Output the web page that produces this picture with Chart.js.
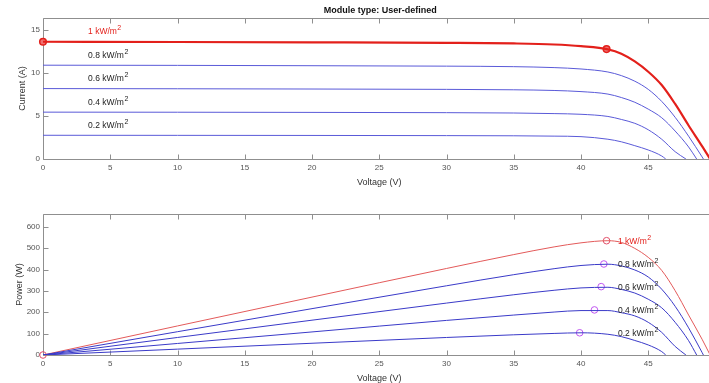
<!DOCTYPE html>
<html>
<head>
<meta charset="utf-8">
<script src="https://cdn.jsdelivr.net/npm/chart.js@4.4.0/dist/chart.umd.min.js"></script>
<style>
  html, body { margin: 0; padding: 0; background: #fff; }
  body { width: 709px; height: 383px; overflow: hidden; position: relative; }
  canvas { position: absolute; left: 0; }
  #ivChart { top: 0; }
  #pvChart { top: 196px; }
</style>
</head>
<body>
<canvas id="ivChart" width="760" height="195"></canvas>
<canvas id="pvChart" width="760" height="195"></canvas>
<script>
// irradiance levels, kW/m2
const irradiance = ['1', '0.8', '0.6', '0.4', '0.2'];

// voltage points (V) along each curve
const volt10 = [0, 10, 20, 30, 35, 38, 40, 42, 43, 44, 45, 46, 47, 48, 49, 49.6];
const volt08 = [0, 10, 20, 30, 35, 38, 40, 42, 43, 44, 45, 46, 47, 48, 49, 49.1];
const volt06 = [0, 10, 20, 30, 35, 38, 40, 42, 43, 44, 45, 46, 47, 48, 48.6];
const volt04 = [0, 10, 20, 30, 35, 38, 40, 42, 43, 44, 45, 46, 47, 47.8];
const volt02 = [0, 10, 20, 30, 35, 38, 40, 42, 43, 44, 45, 46, 46.3];

// current (A)
const curr10 = [13.64, 13.61, 13.57, 13.51, 13.44, 13.32, 13.12, 12.75, 12.25, 11.35, 10.15, 8.6, 6.4, 3.9, 1.5, 0];
const curr08 = [10.91, 10.89, 10.85, 10.80, 10.74, 10.63, 10.47, 10.12, 9.7, 9.05, 8.1, 6.7, 4.85, 2.65, 0.25, 0];
const curr06 = [8.19, 8.17, 8.14, 8.10, 8.05, 7.97, 7.84, 7.55, 7.15, 6.6, 5.8, 4.8, 3.25, 1.4, 0];
const curr04 = [5.45, 5.44, 5.42, 5.39, 5.35, 5.28, 5.2, 4.95, 4.6, 4.15, 3.4, 2.3, 0.85, 0];
const curr02 = [2.76, 2.75, 2.74, 2.72, 2.70, 2.66, 2.60, 2.3, 2.0, 1.55, 1.05, 0.35, 0];

// power (W)
const pow10 = [0, 136, 271, 405, 470, 506, 525, 535, 527, 499, 457, 396, 301, 187, 74, 0];
const pow08 = [0, 109, 217, 324, 376, 404, 419, 425, 417, 398, 365, 308, 228, 127, 12, 0];
const pow06 = [0, 82, 163, 243, 282, 303, 314, 317, 307, 290, 261, 221, 153, 67, 0];
const pow04 = [0, 54, 108, 162, 187, 201, 208, 208, 198, 183, 153, 106, 40, 0];
const pow02 = [0, 27.5, 55, 82, 94.5, 101, 104, 97, 86, 68, 47, 16, 0];

// maximum power points
const mppVolt = [41.9, 41.7, 41.5, 41.0, 39.9];
const mppCurr = [12.78, 10.2, 7.7, 5.15, 2.6];
const mppPow = [535, 426, 320, 211, 104];

// ticks
const voltTicks = [0, 5, 10, 15, 20, 25, 30, 35, 40, 45, 50];
const currTicks = [0, 5, 10, 15];
const powTicks = [0, 100, 200, 300, 400, 500, 600];

const FONT = '"Liberation Sans", Arial, Helvetica, sans-serif';

function pts(xs, ys) {
  return xs.map((x, i) => ({ x: x, y: ys[i] }));
}

function unitLabel(ctx, text, x, y, color) {
  ctx.fillStyle = color;
  ctx.textAlign = 'left';
  ctx.textBaseline = 'middle';
  ctx.font = '8.5px ' + FONT;
  ctx.fillText(text, x, y);
  const w = ctx.measureText(text).width;
  ctx.font = '7px ' + FONT;
  ctx.fillText('2', x + w + 0.5, y - 3.5);
}

// axes box with inward ticks, like matlab
const framePlugin = {
  id: 'frame',
  beforeDatasetsDraw(chart) {
    const { ctx, chartArea: a, scales: { x, y } } = chart;
    ctx.save();
    ctx.strokeStyle = '#8f8f8f';
    ctx.lineWidth = 1;
    const l = Math.round(a.left) + 0.5, r = Math.round(a.right) + 0.5;
    const t = Math.round(a.top) + 0.5, b = Math.round(a.bottom) + 0.5;
    ctx.beginPath();
    ctx.rect(l, t, r - l, b - t);
    x.ticks.forEach(tk => {
      const px = Math.round(x.getPixelForValue(tk.value)) + 0.5;
      ctx.moveTo(px, b); ctx.lineTo(px, b - 5);
      ctx.moveTo(px, t); ctx.lineTo(px, t + 5);
    });
    y.ticks.forEach(tk => {
      const py = Math.round(y.getPixelForValue(tk.value)) + 0.5;
      ctx.moveTo(l, py); ctx.lineTo(l + 5, py);
      ctx.moveTo(r, py); ctx.lineTo(r - 5, py);
    });
    ctx.stroke();
    ctx.restore();
  },
  afterDraw(chart, args, opts) {
    const { ctx, chartArea: a, scales: { x, y } } = chart;
    ctx.save();
    if (opts.title) {
      ctx.fillStyle = '#111';
      ctx.font = 'bold 9px ' + FONT;
      ctx.textAlign = 'center';
      ctx.textBaseline = 'middle';
      ctx.fillText(opts.title, (a.left + a.right) / 2 + 1, 11);
    }
    (opts.labels || []).forEach(lb => {
      unitLabel(ctx, lb.text, x.getPixelForValue(lb.x), y.getPixelForValue(lb.y), lb.color);
    });
    ctx.restore();
  }
};

function axisOptions(ticks, max, title, titlePad, isX) {
  const o = {
    type: 'linear',
    min: 0,
    max: max,
    grid: { display: false, drawTicks: false, tickLength: 0 },
    border: { display: false },
    afterBuildTicks: s => { s.ticks = ticks.map(v => ({ value: v })); },
    ticks: {
      autoSkip: false,
      maxRotation: 0,
      color: '#555',
      font: { family: FONT, size: 8 },
      padding: isX ? 4 : 3
    },
    title: {
      display: true,
      text: title,
      color: '#333',
      font: { family: FONT, size: 9 },
      padding: isX ? { top: 0, bottom: titlePad } : { top: titlePad, bottom: 0 }
    }
  };
  if (isX) o.afterFit = s => { s.height = 36; };
  else o.afterFit = s => { s.width = 43; };
  return o;
}

function baseOptions(yTicks, yMax, yTitle, yPad, plug) {
  return {
    responsive: false,
    animation: false,
    layout: { padding: { top: 18, right: 44.5, left: 0, bottom: 0 } },
    elements: { point: { radius: 0 }, line: { cubicInterpolationMode: 'monotone' } },
    plugins: { legend: { display: false }, tooltip: { enabled: false }, frame: plug },
    scales: {
      x: axisOptions(voltTicks, 50, 'Voltage (V)', 7, true),
      y: axisOptions(yTicks, yMax, yTitle, yPad, false)
    }
  };
}

const volts = [volt10, volt08, volt06, volt04, volt02];
const currs = [curr10, curr08, curr06, curr04, curr02];
const pows = [pow10, pow08, pow06, pow04, pow02];

// --- current vs voltage ---
const ivSets = [];
for (let i = 4; i >= 1; i--) {
  ivSets.push({ data: pts(volts[i], currs[i]), borderColor: '#5a5ad8', borderWidth: 1, fill: false });
}
ivSets.push({ data: pts(volt10, curr10), borderColor: '#e3201b', borderWidth: 2.2, fill: false });
ivSets.push({
  data: [{ x: 0, y: curr10[0] }, { x: mppVolt[0], y: mppCurr[0] }],
  showLine: false, clip: false,
  pointRadius: 3.3, pointBorderWidth: 1.5,
  pointBorderColor: '#e3201b', pointBackgroundColor: '#f07070'
});

new Chart(document.getElementById('ivChart'), {
  type: 'line',
  data: { datasets: ivSets },
  options: baseOptions(currTicks, 16.4, 'Current (A)', 17, {
    title: 'Module type: User-defined',
    labels: irradiance.map((g, i) => ({
      text: g + ' kW/m', x: 3.35, y: currs[i][0] + 1.15,
      color: i === 0 ? '#e3201b' : '#222'
    }))
  }),
  plugins: [framePlugin]
});

// --- power vs voltage ---
const pvSets = [];
for (let i = 4; i >= 1; i--) {
  pvSets.push({ data: pts(volts[i], pows[i]), borderColor: '#3a3ac8', borderWidth: 1, fill: false });
}
pvSets.push({ data: pts(volt10, pow10), borderColor: '#e35a5a', borderWidth: 1, fill: false });
pvSets.push({
  data: mppVolt.slice(1).map((v, i) => ({ x: v, y: mppPow[i + 1] })),
  showLine: false, clip: false,
  pointRadius: 3.3, pointBorderWidth: 1,
  pointBorderColor: '#c055f0', pointBackgroundColor: 'rgba(0,0,0,0)'
});
pvSets.push({
  data: [{ x: 0, y: 0 }, { x: mppVolt[0], y: mppPow[0] }],
  showLine: false, clip: false,
  pointRadius: 3.3, pointBorderWidth: 1,
  pointBorderColor: '#e2506a', pointBackgroundColor: 'rgba(0,0,0,0)'
});

new Chart(document.getElementById('pvChart'), {
  type: 'line',
  data: { datasets: pvSets },
  options: baseOptions(powTicks, 660, 'Power (W)', 14, {
    labels: irradiance.map((g, i) => ({
      text: g + ' kW/m', x: 42.75, y: mppPow[i] - 5,
      color: i === 0 ? '#e3201b' : '#222'
    }))
  }),
  plugins: [framePlugin]
});
</script>
</body>
</html>
